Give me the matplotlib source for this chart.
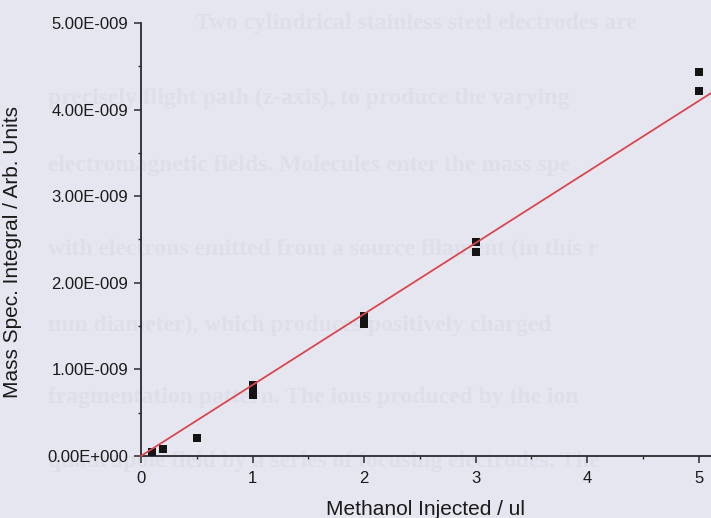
import matplotlib
matplotlib.use("Agg")
import matplotlib.pyplot as plt
from matplotlib.ticker import FuncFormatter, MultipleLocator

plt.rcParams['font.family'] = ['Liberation Sans', 'DejaVu Sans']

# methanol injected (ul) and integrated mass spec signal (arb. units)
methanol_ul = [0.1, 0.2, 0.5, 1, 1, 1, 2, 2, 3, 3, 5, 5]
signal = [0.05e-9, 0.08e-9, 0.21e-9,
          0.70e-9, 0.76e-9, 0.82e-9,
          1.52e-9, 1.62e-9,
          2.36e-9, 2.47e-9,
          4.22e-9, 4.43e-9]

# linear fit through the data
fit_slope = 0.82e-9
fit_intercept = 0.0
fit_x = [0, 5.11]

x_ticks = [0, 1, 2, 3, 4, 5]
y_ticks = [0, 1e-9, 2e-9, 3e-9, 4e-9, 5e-9]

# faint text showing through from the other side of the page
page_lines = [
    (195, 23, "Two cylindrical stainless steel electrodes are"),
    (48, 98, "precisely flight path (z-axis), to produce the varying"),
    (48, 166, "electromagnetic fields. Molecules enter the mass spe"),
    (48, 249, "with electrons emitted from a source filament (in this r"),
    (48, 325, "mm diameter), which produces positively charged"),
    (48, 398, "fragmentation pattern. The ions produced by the ion"),
    (48, 462, "quadrupole field by a series of focusing electrodes. The"),
]

bg = '#e6e6f0'
W, H = 711, 518
fig = plt.figure(figsize=(W / 100, H / 100), dpi=100, facecolor=bg)

for px, py, line in page_lines:
    fig.text(px / W, 1 - py / H, line, fontsize=17, color='#dfdfe9',
             family=['Liberation Serif', 'DejaVu Serif'], weight='bold',
             va='center', ha='left', zorder=-1)

left, right, bottom, top = 141, 711, 456, 23
ax = fig.add_axes([left / W, 1 - bottom / H, (right - left) / W, (bottom - top) / H])
ax.set_facecolor('none')

fx = fit_x
fy = [fit_slope * v + fit_intercept for v in fx]
ax.plot(methanol_ul, signal, 's', color='#141414', markersize=5.6,
        markeredgewidth=0, zorder=3, clip_on=False)
ax.plot(fx, fy, color='#d8474d', linewidth=1.3, zorder=4, clip_on=False)

ax.set_xlim(0, 5.11)
ax.set_ylim(0, 5e-9)

ax.set_xticks(x_ticks)
ax.set_yticks(y_ticks)
ax.xaxis.set_minor_locator(MultipleLocator(0.5))
ax.yaxis.set_minor_locator(MultipleLocator(0.5e-9))


def sci_label(v, pos):
    if v == 0:
        return '0.00E+000'
    s = f'{v:.2E}'
    mant, exp = s.split('E')
    sign = exp[0]
    return f'{mant}E{sign}{int(exp[1:]):03d}'


ax.yaxis.set_major_formatter(FuncFormatter(sci_label))
ax.xaxis.set_major_formatter(FuncFormatter(lambda v, p: f'{int(v)}'))

for side in ['top', 'right']:
    ax.spines[side].set_visible(False)
for side in ['left', 'bottom']:
    ax.spines[side].set_linewidth(1.3)
    ax.spines[side].set_color('#2a2a2e')

ax.tick_params(which='major', direction='out', length=5, width=1.1,
               color='#2a2a2e', labelsize=12, labelcolor='#1a1a1a')
ax.tick_params(which='minor', direction='out', length=2.5, width=1.0,
               color='#2a2a2e')
ax.tick_params(axis='x', which='major', pad=6)
ax.tick_params(axis='y', which='major', pad=4)

ax.set_ylabel('Mass Spec. Integral / Arb. Units', fontsize=15, color='#1a1a1a')
ax.yaxis.set_label_coords((22 - left) / (right - left), (bottom - 252) / (bottom - top))
ax.set_xlabel('Methanol Injected / ul', fontsize=15, color='#1a1a1a')
ax.xaxis.label.set_va('baseline')
ax.xaxis.set_label_coords(0.5, -(515 - bottom) / (bottom - top))

fig.savefig('out.png', dpi=100, facecolor=bg)
